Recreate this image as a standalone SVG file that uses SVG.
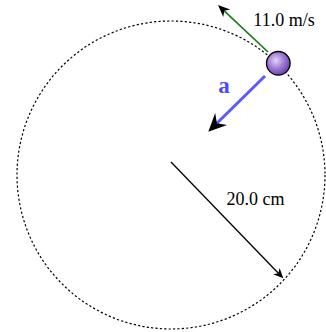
<svg xmlns="http://www.w3.org/2000/svg" width="326" height="332" viewBox="0 0 326 332">
<style>
.lbl{font-family:"Liberation Serif","Times New Roman",serif;font-size:18px;fill:#000}
.orbit{fill:none;stroke:#000;stroke-width:1.2;stroke-dasharray:2.2 2.2}
.head{fill:#000;stroke:none}
</style>
<defs>
<radialGradient id="ballG" cx="0.4" cy="0.38" r="0.65">
<stop offset="0" stop-color="#e2d4f4"/>
<stop offset="0.5" stop-color="#a27ed6"/>
<stop offset="1" stop-color="#6a3fb0"/>
</radialGradient>
</defs>
<g id="orbit">
<circle class="orbit" cx="171" cy="175" r="154"/>
</g>
<g id="connectors">
<g id="radius">
<line x1="171" y1="162" x2="278.4" y2="273.3" stroke="#000" stroke-width="1.3"/>
<polygon class="head" points="283.3,278.3 279.6,268 278.4,273.3 273.1,274.2"/>
</g>
<g id="velocity">
<line x1="268" y1="52" x2="224.2" y2="10.8" stroke="#1a7a1a" stroke-width="1.7"/>
<polygon class="head" points="218,5 223.3,16.9 224.2,10.8 230.2,9.6"/>
</g>
<g id="acceleration">
<line x1="265" y1="76" x2="216.9" y2="123.3" stroke="#5a5aff" stroke-width="3"/>
<polygon class="head" points="208.3,131.7 227.1,125.1 216.9,123.3 215.2,113"/>
</g>
</g>
<g id="ball">
<circle cx="278.3" cy="63.3" r="11.8" fill="url(#ballG)" stroke="#000" stroke-width="1.3"/>
</g>
<g id="labels">
<text class="lbl" x="253.3" y="25.7">11.0 m/s</text>
<text class="lbl" x="226.5" y="205">20.0 cm</text>
<text x="218.3" y="93.3" style="font-family:'Liberation Serif','Times New Roman',serif;font-size:23px;font-weight:bold;fill:#4a4aff">a</text>
</g>
</svg>
